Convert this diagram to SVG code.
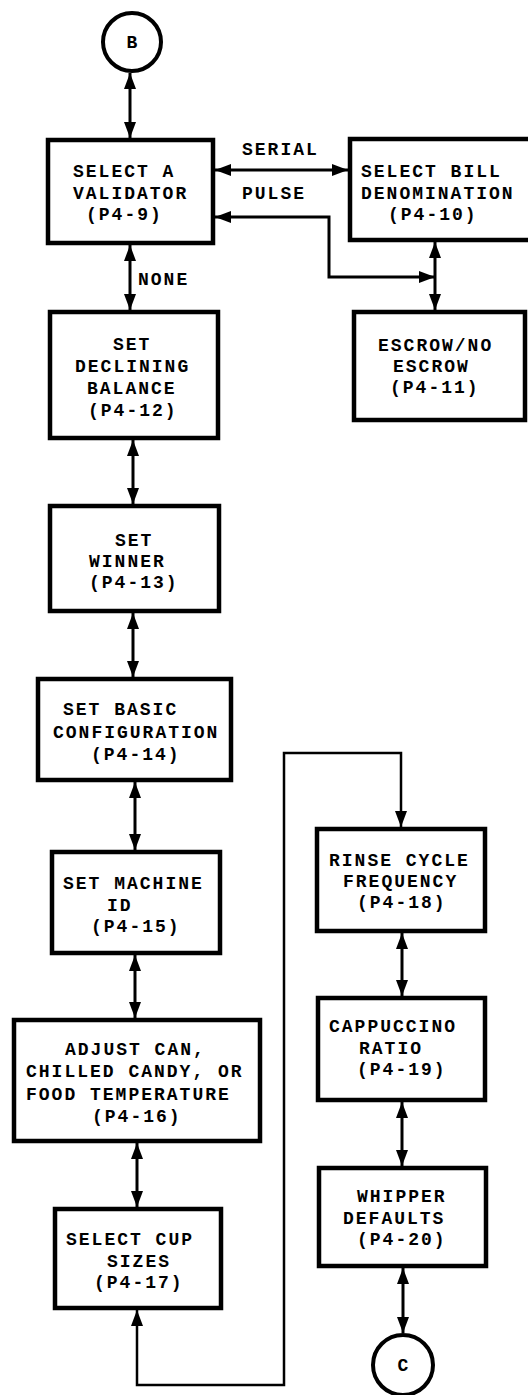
<svg xmlns="http://www.w3.org/2000/svg" width="528" height="1395" viewBox="0 0 528 1395">
<style>
.box{fill:#fff;stroke:#000;stroke-width:4.5}
.circ{fill:#fff;stroke:#000;stroke-width:4}
.t{font-family:"Liberation Mono","DejaVu Sans Mono",monospace;font-weight:bold;font-size:18px;letter-spacing:2px;fill:#000}
.c{fill:none;stroke:#000;stroke-width:3}
.cl{fill:none;stroke:#000;stroke-width:2.5}
.bi{marker-start:url(#ah);marker-end:url(#ah)}
</style>
<defs>
<marker id="ah" viewBox="0 0 16 12" markerWidth="16" markerHeight="12" refX="16" refY="6" orient="auto-start-reverse" markerUnits="userSpaceOnUse">
<path d="M0,0 L16,6 L0,12 z" fill="#000"/>
</marker>
</defs>
<rect width="528" height="1395" fill="#fff"/>
<g id="connectors">
<line class="c bi" x1="130" y1="73" x2="130" y2="138"/>
<line class="c bi" x1="215" y1="170" x2="348" y2="170"/>
<path class="c bi" d="M435 277 H329 V217 H215"/>
<line class="c bi" x1="435" y1="242" x2="435" y2="310"/>
<line class="c bi" x1="130" y1="245" x2="130" y2="310"/>
<line class="c bi" x1="133" y1="440" x2="133" y2="504"/>
<line class="c bi" x1="133" y1="613" x2="133" y2="677"/>
<line class="c bi" x1="135" y1="782" x2="135" y2="850"/>
<line class="c bi" x1="135" y1="955" x2="135" y2="1018"/>
<line class="c bi" x1="137" y1="1143" x2="137" y2="1207"/>
<path class="cl bi" d="M137 1310 V1385 H284 V753 H401 V827"/>
<line class="c bi" x1="402" y1="933" x2="402" y2="996"/>
<line class="c bi" x1="402" y1="1102" x2="402" y2="1166"/>
<line class="c bi" x1="403" y1="1268" x2="403" y2="1333"/>
<text class="t" x="242" y="155">SERIAL</text>
<text class="t" x="242" y="199">PULSE</text>
<text class="t" x="138" y="285">NONE</text>
</g>
<g id="nodeB">
<circle class="circ" cx="132" cy="42" r="29"/>
<text class="t" x="133" y="48" text-anchor="middle">B</text>
</g>
<g id="validator">
<rect class="box" x="48" y="140" width="165" height="103"/>
<text class="t" x="73" y="177">SELECT A</text>
<text class="t" x="73" y="198.5">VALIDATOR</text>
<text class="t" x="86" y="220">(P4-9)</text>
</g>
<g id="bill">
<rect class="box" x="350" y="139" width="185" height="101"/>
<text class="t" x="361" y="177">SELECT BILL</text>
<text class="t" x="361" y="198.5">DENOMINATION</text>
<text class="t" x="388" y="220">(P4-10)</text>
</g>
<g id="escrow">
<rect class="box" x="354" y="312" width="171" height="108"/>
<text class="t" x="378" y="351">ESCROW/NO</text>
<text class="t" x="393" y="372">ESCROW</text>
<text class="t" x="390" y="393">(P4-11)</text>
</g>
<g id="declining">
<rect class="box" x="50" y="312" width="168" height="126"/>
<text class="t" x="113" y="350">SET</text>
<text class="t" x="75" y="372">DECLINING</text>
<text class="t" x="87" y="394">BALANCE</text>
<text class="t" x="88" y="416">(P4-12)</text>
</g>
<g id="winner">
<rect class="box" x="50" y="506" width="169" height="105"/>
<text class="t" x="115" y="546">SET</text>
<text class="t" x="89" y="567">WINNER</text>
<text class="t" x="89" y="588">(P4-13)</text>
</g>
<g id="basic">
<rect class="box" x="38" y="679" width="193" height="101"/>
<text class="t" x="63" y="715">SET BASIC</text>
<text class="t" x="53" y="738">CONFIGURATION</text>
<text class="t" x="91" y="760">(P4-14)</text>
</g>
<g id="machine">
<rect class="box" x="52" y="852" width="168" height="101"/>
<text class="t" x="63" y="889">SET MACHINE</text>
<text class="t" x="107" y="910.5">ID</text>
<text class="t" x="91" y="932">(P4-15)</text>
</g>
<g id="adjust">
<rect class="box" x="14" y="1020" width="246" height="121"/>
<text class="t" x="65" y="1055">ADJUST CAN,</text>
<text class="t" x="26" y="1077">CHILLED CANDY, OR</text>
<text class="t" x="26" y="1100">FOOD TEMPERATURE</text>
<text class="t" x="92" y="1122">(P4-16)</text>
</g>
<g id="cup">
<rect class="box" x="55" y="1209" width="166" height="99"/>
<text class="t" x="66" y="1245">SELECT CUP</text>
<text class="t" x="107" y="1266.5">SIZES</text>
<text class="t" x="94" y="1288">(P4-17)</text>
</g>
<g id="rinse">
<rect class="box" x="317" y="829" width="168" height="102"/>
<text class="t" x="329" y="866">RINSE CYCLE</text>
<text class="t" x="343" y="887">FREQUENCY</text>
<text class="t" x="357" y="908">(P4-18)</text>
</g>
<g id="cappuccino">
<rect class="box" x="318" y="998" width="167" height="102"/>
<text class="t" x="329" y="1032">CAPPUCCINO</text>
<text class="t" x="359" y="1053.5">RATIO</text>
<text class="t" x="357" y="1075">(P4-19)</text>
</g>
<g id="whipper">
<rect class="box" x="319" y="1168" width="167" height="98"/>
<text class="t" x="357" y="1202">WHIPPER</text>
<text class="t" x="343" y="1223.5">DEFAULTS</text>
<text class="t" x="357" y="1245">(P4-20)</text>
</g>
<g id="nodeC">
<circle class="circ" cx="403" cy="1365" r="30"/>
<text class="t" x="404" y="1371" text-anchor="middle">C</text>
</g>
</svg>
